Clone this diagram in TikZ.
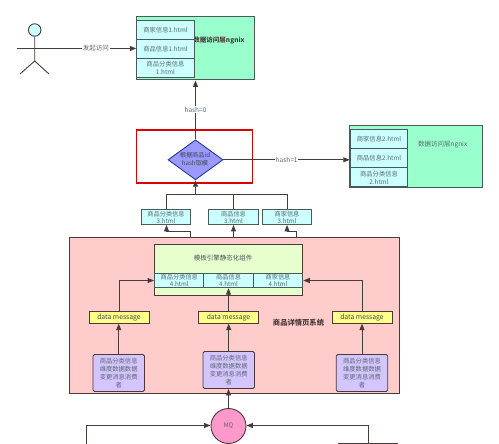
\documentclass[tikz,border=0pt]{standalone}
\usepackage{fontspec}
\setmainfont{Noto Sans CJK SC}
\usetikzlibrary{arrows.meta,shapes.geometric}
\definecolor{ln}{HTML}{4A5A58}
\definecolor{dk}{HTML}{4A3A3A}
\definecolor{txt}{HTML}{5A6A70}
\definecolor{cyanf}{HTML}{CCFFFF}
\definecolor{greenf}{HTML}{99FFCC}
\definecolor{pinkf}{HTML}{FFCCCC}
\definecolor{limef}{HTML}{E6FFCC}
\definecolor{yelf}{HTML}{FFFF88}
\definecolor{purf}{HTML}{D4C4FF}
\definecolor{violf}{HTML}{9999FF}
\definecolor{mqf}{HTML}{FF99CC}
\tikzset{
 x=1pt,y=-1pt,
 conn/.style={draw=dk,line width=0.9pt,-{Triangle[length=6.5pt,width=5pt]}},
 plainline/.style={draw=dk,line width=0.9pt},
 box/.style={draw=ln,line width=1pt,fill=cyanf,text=txt,font=\fontsize{6.3}{8}\selectfont,align=center,inner sep=0pt,minimum width=57.5pt,minimum height=19pt},
 small/.style={draw=ln,line width=1pt,fill=cyanf,text=txt,font=\fontsize{6.2}{7.4}\selectfont,align=center,inner sep=0pt,minimum width=49.5pt,minimum height=14.5pt},
 panel/.style={draw=ln,line width=1pt,fill=greenf,inner sep=0pt},
 msg/.style={draw=dk,line width=0.9pt,fill=yelf,text=txt!70!black,font=\fontsize{6.8}{8}\selectfont,inner sep=0pt,minimum width=60pt,minimum height=11.3pt},
 consumer/.style={draw=dk,line width=0.9pt,rounded corners=1.5pt,fill=purf,text=txt,font=\fontsize{6.3}{8}\selectfont,align=center,inner sep=0pt,minimum width=51.5pt,minimum height=37pt},
 edgelabel/.style={fill=white,text=txt,font=\fontsize{6.5}{7.5}\selectfont,inner sep=0.8pt},
}
\begin{document}
\begin{tikzpicture}
\useasboundingbox (0,0) rectangle (499,444);
% top panel
\node[panel,minimum width=118pt,minimum height=63pt] (ngA) at (195.5,48.5) {};
\node[font=\fontsize{6.5}{7.5}\selectfont\bfseries,text=dk] (ngAt) at (219,40) {数据访问层ngnix};
\node[box] (a1) at (165.5,29.7) {商家信息1.html};
\node[box] (a2) at (165.5,48.7) {商品信息1.html};
\node[box] (a3) at (165.5,67.7) {商品分类信息\\1.html};
% right panel
\node[panel,minimum width=132.5pt,minimum height=61.5pt] (ngB) at (416,156.5) {};
\node[font=\fontsize{6.5}{7.5}\selectfont,text=txt] (ngBt) at (442.7,144.8) {数据访问层ngnix};
\node[box] (b1) at (379,139) {商家信息2.html};
\node[box] (b2) at (379,158) {商品信息2.html};
\node[box] (b3) at (379,177.5) {商品分类信息\\2.html};
% actor
\node[circle,draw=dk,line width=0.9pt,fill=cyanf,minimum size=12.5pt,inner sep=0pt] (head) at (34.7,30) {};
\coordinate (hip) at (34.7,61);
\coordinate (armL) at (17,48.5);
\coordinate (armR) at (52,48.5);
\coordinate (legL) at (20,74);
\coordinate (legR) at (49,74);
\draw[plainline] (head) -- (hip) (armL) -- (armR) (legL) -- (hip) -- (legR);
% red box and decision
\node[draw=red!85!black,line width=1.3pt,minimum width=116pt,minimum height=53pt,inner sep=0pt] (hashbox) at (194.7,156.5) {};
\node[diamond,draw=ln!60!blue,line width=0.9pt,fill=violf,inner sep=0pt,minimum width=55pt,minimum height=40pt,aspect=1.4] (hash) at (195.5,159.8) {};
\node[text=txt!70!black,font=\fontsize{6.2}{7.8}\selectfont,align=center] (hasht) at (195,159.5) {根据商品id\\hash取模};
% 3.html
\node[small] (c1) at (166,217.2) {商品分类信息\\3.html};
\node[small] (c2) at (233.5,217.2) {商品信息\\3.html};
\node[small] (c3) at (287,217.2) {商家信息\\3.html};
\coordinate (busA) at (166,194.7);
\coordinate (busB) at (287,194.7);
\coordinate (busC) at (195.5,194.7);
\coordinate (busD) at (233.5,194.7);
% system panel
\node[draw=dk,line width=0.9pt,fill=pinkf,minimum width=330pt,minimum height=156pt,inner sep=0pt] (sys) at (234.3,315.7) {};
\node[font=\fontsize{7.3}{8.5}\selectfont\bfseries,text=dk] (syst) at (298.5,322.5) {商品详情页系统};
% engine
\node[draw=dk,line width=0.9pt,fill=limef,minimum width=148.5pt,minimum height=50.6pt,inner sep=0pt] (eng) at (228.5,270) {};
\node[font=\fontsize{6.5}{7.5}\selectfont,text=txt!80!black] (engt) at (223,258.5) {模板引擎静态化组件};
\node[small,minimum height=14.4pt] (d1) at (179.3,280.5) {商品分类信息\\4.html};
\node[small,minimum height=14.4pt] (d2) at (228.6,280.5) {商品信息\\4.html};
\node[small,minimum height=14.4pt] (d3) at (278,280.5) {商家信息\\4.html};
% messages
\node[msg] (m1) at (119,317.5) {data message};
\node[msg] (m2) at (228.5,317.5) {data message};
\node[msg] (m3) at (362,317.5) {data message};
\node[consumer] (e1) at (118.7,373) {商品分类信息\\维度数据数据\\变更消息消费\\者};
\node[consumer] (e2) at (228.7,370) {商品分类信息\\维度数据数据\\变更消息消费\\者};
\node[consumer] (e3) at (362,373) {商品分类信息\\维度数据数据\\变更消息消费\\者};
\node[circle,draw=dk,line width=0.9pt,fill=mqf,text=txt,font=\fontsize{6.2}{7}\selectfont,minimum size=35pt,inner sep=0pt] (mq) at (228.5,426) {MQ};
% bottom feeds
\coordinate (lfeed) at (86,444);
\coordinate (lcorner) at (86,425.5);
\coordinate (rfeed) at (368.5,444);
\coordinate (rcorner) at (368.5,425.5);
\coordinate (rb1) at (338,443);
\coordinate (rb2) at (398,443);
% feeds into the 3.html boxes
\coordinate (f1a) at (190.5,237.7);
\coordinate (f1b) at (190.5,231);
\coordinate (f1c) at (166.5,231);
\coordinate (f3a) at (296,237.7);
\coordinate (f3b) at (296,231);
\coordinate (f3c) at (287,231);
% connectors
\draw[conn] (armR) -- node[edgelabel,pos=.52] (l0) {发起访问} (a2.west |- armR);
\draw[conn] (hash.north) -- node[edgelabel] (l1) {hash=0} (hash.north |- ngA.south);
\draw[conn] (hash.east) -- node[edgelabel,pos=.5] (l2) {hash=1} (b2.west |- hash.east);
\draw[conn] (busC) -- (hash.south);
\draw[plainline] (c1.north) -- (busA) -- (busB) -- (c3.north);
\draw[plainline] (c2.north) -- (busD);
\draw[conn] (f1a) -- (f1b) -- (f1c) -- (f1c |- c1.south);
\draw[conn] (c2.south |- sys.north) -- (c2.south);
\draw[conn] (f3a) -- (f3b) -- (f3c) -- (c3.south);
\draw[conn] (m1.north) |- (d1.west);
\draw[conn] (m2.north) -- (m2.north |- d2.south);
\draw[conn] (m3.north) |- (d3.east);
\draw[conn] (e1.north) -- (e1.north |- m1.south);
\draw[conn] (e2.north) -- (e2.north |- m2.south);
\draw[conn] (e3.north) -- (m3.south);
\draw[conn] (mq.north) -- (mq.north |- e2.south);
\draw[conn] (lfeed) -- (lcorner) -- (lcorner -| mq.west);
\draw[conn] (rfeed) -- (rcorner) -- (rcorner -| mq.east);
\draw[plainline] (rb1) -- (rb2);
\end{tikzpicture}
\end{document}
